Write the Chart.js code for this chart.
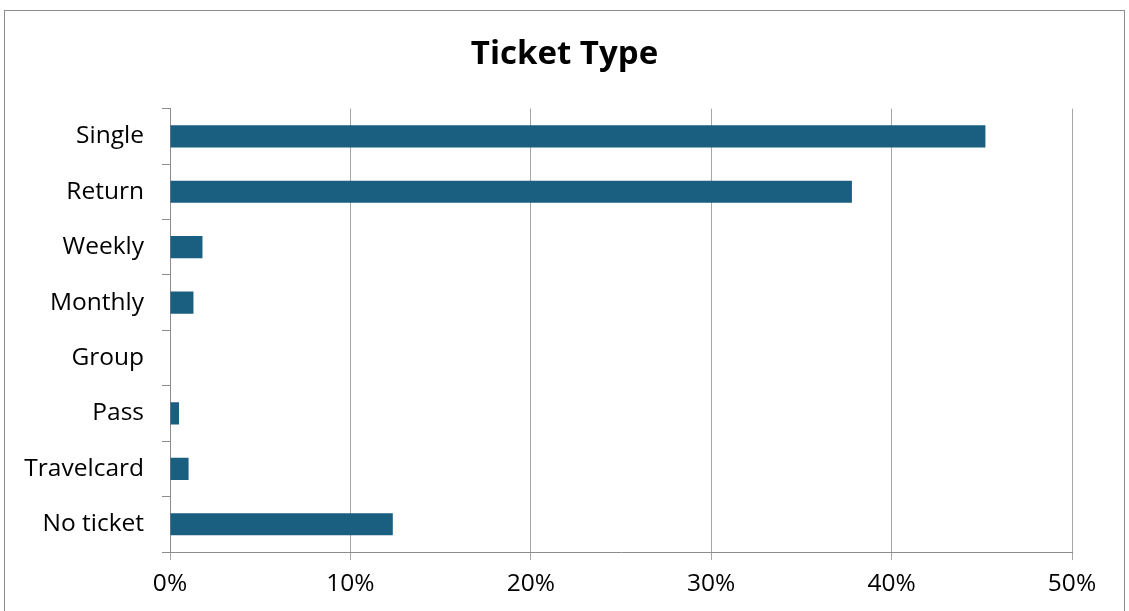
<!DOCTYPE html>
<html>
<head>
<meta charset="utf-8">
<script src="https://cdn.jsdelivr.net/npm/chart.js@4"></script>
<style>
  html, body { margin: 0; padding: 0; background: #ffffff; }
  #wrap { position: relative; width: 1129px; height: 611px; overflow: hidden; }
  #frame { position: absolute; left: 4px; top: 10px; width: 1121px; height: 640px;
           border: 1px solid #8c8c8c; box-sizing: border-box; pointer-events: none; }
  canvas { position: absolute; left: 0; top: 0; }
</style>
</head>
<body>
<div id="wrap">
  <canvas id="chart" width="1129" height="611"></canvas>
  <div id="frame"></div>
</div>
<script>
// Share of respondents by ticket type
const categories = ['Single', 'Return', 'Weekly', 'Monthly', 'Group', 'Pass', 'Travelcard', 'No ticket'];
const shares = [45.2, 37.8, 1.8, 1.3, 0, 0.5, 1.03, 12.35];
const tickValues = [0, 10, 20, 30, 40, 50];

const FONT = '"Open Sans", Roboto, sans-serif';
const BAR = '#1a5e80';
const GRID = '#a6a6a6';
const AXIS = '#8c8c8c';

new Chart(document.getElementById('chart'), {
  type: 'bar',
  data: {
    labels: categories,
    datasets: [{
      data: shares,
      backgroundColor: BAR,
      borderWidth: 0,
      barPercentage: 0.4,
      categoryPercentage: 1.0
    }]
  },
  options: {
    indexAxis: 'y',
    responsive: false,
    animation: false,
    layout: { padding: 0 },
    plugins: {
      legend: { display: false },
      tooltip: { enabled: false },
      title: {
        display: true,
        text: 'Ticket Type',
        color: '#000000',
        font: { family: FONT, size: 33, weight: 'bold', lineHeight: 1.2 },
        padding: { top: 35, bottom: 34 }
      }
    },
    scales: {
      x: {
        min: 0,
        max: 50,
        afterBuildTicks: (scale) => { scale.ticks = tickValues.map(v => ({ value: v })); },
        afterFit: (scale) => { scale.height = 59; },
        ticks: {
          callback: (v) => v + '%',
          color: '#000000',
          font: { family: FONT, size: 24.5 },
          padding: 9
        },
        grid: { color: GRID, lineWidth: 1, tickLength: 8, drawTicks: true },
        border: { display: true, color: AXIS, width: 1 }
      },
      y: {
        afterFit: (scale) => { scale.width = 170; },
        ticks: {
          color: '#000000',
          font: { family: FONT, size: 24.5 },
          padding: 18
        },
        grid: { offset: true, drawOnChartArea: false, drawTicks: true, tickLength: 8, color: AXIS },
        border: { display: true, color: AXIS, width: 1 }
      },
      // blank right-hand margin so the plot ends at 50% with room for its label
      yRight: {
        type: 'category',
        position: 'right',
        labels: categories,
        afterFit: (scale) => { scale.width = 57; },
        ticks: { display: false },
        grid: { display: false },
        border: { display: false }
      }
    }
  }
});
</script>
</body>
</html>
